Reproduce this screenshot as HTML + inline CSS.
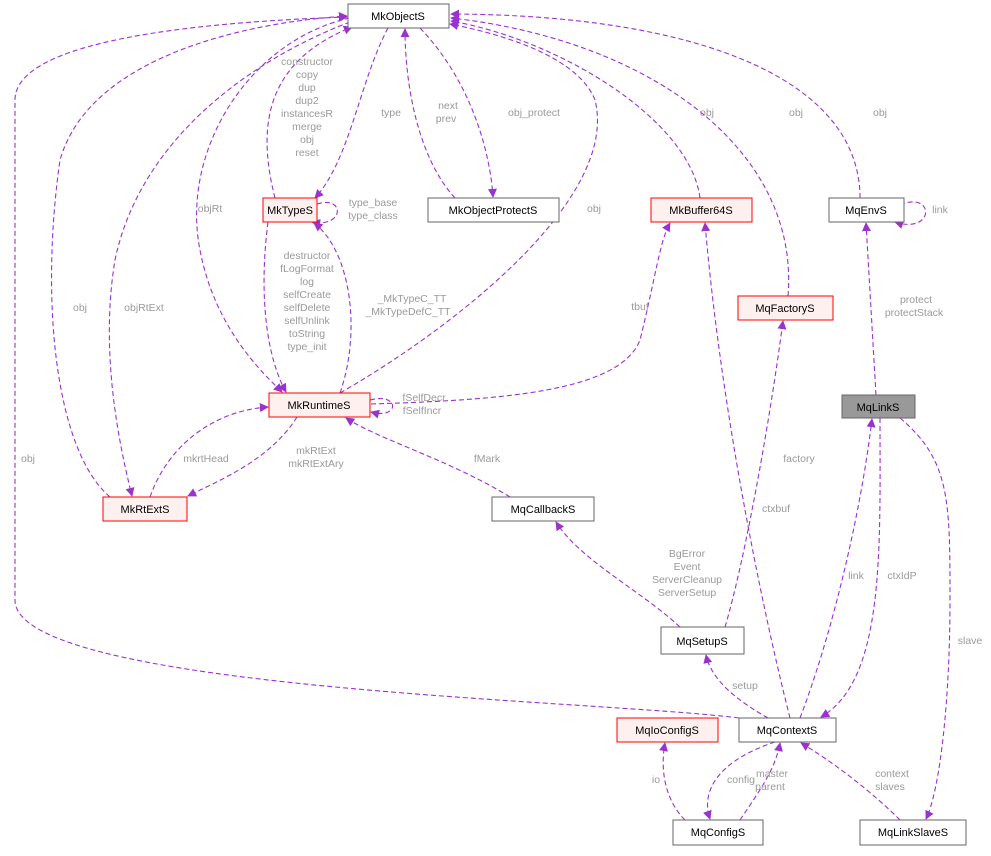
<!DOCTYPE html>
<html><head><meta charset="utf-8"><style>
html,body{margin:0;padding:0;background:#fff;}
svg text{font-family:"Liberation Sans",Helvetica,sans-serif;}
.n{font-size:11px;fill:#000;text-anchor:middle;}
.l{font-size:10.5px;fill:#9a9a9a;text-anchor:middle;}
.e{fill:none;stroke:#9a32cd;stroke-width:1.1;stroke-dasharray:5,3;marker-end:url(#a);}
</style></head><body>
<svg width="991" height="851" viewBox="0 0 991 851" xmlns="http://www.w3.org/2000/svg">
<defs><marker id="a" viewBox="0 0 10 10" refX="9" refY="5" markerWidth="9" markerHeight="9" markerUnits="userSpaceOnUse" orient="auto"><path d="M0,0 L10,5 L0,10 z" fill="#9a32cd"/></marker></defs>

<path class="e" d="M275,198 C255,120 270,60 352,27"/>
<path class="e" d="M388,28 C360,80 350,160 315,198"/>
<path class="e" d="M317,204 C345,195 345,228 312,222"/>
<path class="e" d="M455,198 C420,160 405,90 405,29"/>
<path class="e" d="M420,28 C470,80 490,150 493,197"/>
<path class="e" d="M340,393 C450,330 620,200 595,100 C575,50 480,30 450,24"/>
<path class="e" d="M350,18 C250,40 180,150 200,250 C215,330 265,375 282,392"/>
<path class="e" d="M700,198 C690,120 560,40 451,21"/>
<path class="e" d="M788,296 C800,150 650,40 451,18"/>
<path class="e" d="M860,198 C860,80 700,15 451,14"/>
<path class="e" d="M900,205 C935,190 935,235 895,222"/>
<path class="e" d="M268,222 C258,300 268,360 286,392"/>
<path class="e" d="M340,393 C362,330 350,250 314,223"/>
<path class="e" d="M370,400 C400,392 400,420 371,412"/>
<path class="e" d="M371,404 C500,400 620,392 640,340 C655,280 660,240 670,223"/>
<path class="e" d="M110,497 C55,450 40,300 60,160 C90,55 250,22 347,16"/>
<path class="e" d="M350,22 C250,60 140,140 115,260 C100,350 118,440 132,496"/>
<path class="e" d="M150,497 C170,440 220,410 268,407"/>
<path class="e" d="M297,417 C270,460 220,480 188,496"/>
<path class="e" d="M510,497 C450,460 380,440 346,418"/>
<path class="e" d="M739,718 C600,700 15,690 15,600 L15,100 C15,40 200,22 347,17"/>
<path class="e" d="M680,627 C640,590 580,560 556,522"/>
<path class="e" d="M725,627 C745,560 770,420 783,321"/>
<path class="e" d="M790,718 C760,600 720,400 705,223"/>
<path class="e" d="M768,718 C740,702 712,682 706,655"/>
<path class="e" d="M800,718 C830,640 860,520 872,419"/>
<path class="e" d="M880,418 C880,550 885,680 821,717"/>
<path class="e" d="M876,395 L866,223"/>
<path class="e" d="M900,418 C950,460 950,500 950,600 C950,700 940,790 926,819"/>
<path class="e" d="M900,820 C870,790 830,760 801,743"/>
<path class="e" d="M685,820 C665,800 660,770 665,743"/>
<path class="e" d="M775,742 C720,760 700,790 710,819"/>
<path class="e" d="M740,820 C760,790 775,770 780,743"/>

<text class="l" x="307" y="65">constructor</text><text class="l" x="307" y="78">copy</text><text class="l" x="307" y="91">dup</text><text class="l" x="307" y="104">dup2</text><text class="l" x="307" y="117">instancesR</text><text class="l" x="307" y="130">merge</text><text class="l" x="307" y="143">obj</text><text class="l" x="307" y="156">reset</text>
<text class="l" x="391" y="116">type</text>
<text class="l" x="448" y="109">next</text><text class="l" x="446" y="122">prev</text>
<text class="l" x="534" y="116">obj_protect</text>
<text class="l" x="210" y="212">objRt</text>
<text class="l" x="594" y="212">obj</text>
<text class="l" x="707" y="116">obj</text>
<text class="l" x="796" y="116">obj</text>
<text class="l" x="880" y="116">obj</text>
<text class="l" x="940" y="213">link</text>
<text class="l" x="373" y="206">type_base</text><text class="l" x="373" y="219">type_class</text>
<text class="l" x="307" y="259">destructor</text><text class="l" x="307" y="272">fLogFormat</text><text class="l" x="307" y="285">log</text><text class="l" x="307" y="298">selfCreate</text><text class="l" x="307" y="311">selfDelete</text><text class="l" x="307" y="324">selfUnlink</text><text class="l" x="307" y="337">toString</text><text class="l" x="307" y="350">type_init</text>
<text class="l" x="412" y="302">_MkTypeC_TT</text><text class="l" x="408" y="315">_MkTypeDefC_TT</text>
<text class="l" x="424" y="401">fSelfDecr</text><text class="l" x="422" y="414">fSelfIncr</text>
<text class="l" x="640" y="310">tbuf</text>
<text class="l" x="80" y="311">obj</text>
<text class="l" x="144" y="311">objRtExt</text>
<text class="l" x="206" y="462">mkrtHead</text>
<text class="l" x="316" y="454">mkRtExt</text><text class="l" x="316" y="467">mkRtExtAry</text>
<text class="l" x="487" y="462">fMark</text>
<text class="l" x="28" y="462">obj</text>
<text class="l" x="916" y="303">protect</text><text class="l" x="914" y="316">protectStack</text>
<text class="l" x="799" y="462">factory</text>
<text class="l" x="776" y="512">ctxbuf</text>
<text class="l" x="687" y="557">BgError</text><text class="l" x="687" y="570">Event</text><text class="l" x="687" y="583">ServerCleanup</text><text class="l" x="687" y="596">ServerSetup</text>
<text class="l" x="856" y="579">link</text>
<text class="l" x="902" y="579">ctxIdP</text>
<text class="l" x="970" y="644">slave</text>
<text class="l" x="745" y="689">setup</text>
<text class="l" x="892" y="777">context</text><text class="l" x="890" y="790">slaves</text>
<text class="l" x="656" y="783">io</text>
<text class="l" x="741" y="783">config</text>
<text class="l" x="772" y="777">master</text><text class="l" x="770" y="790">parent</text>

<g stroke-width="1">
<rect x="348" y="4" width="101" height="24" fill="#fff" stroke="#666"/><text class="n" x="398" y="20">MkObjectS</text>
<rect x="263" y="198" width="54" height="24" fill="#fff0f0" stroke="#f00"/><text class="n" x="290" y="214">MkTypeS</text>
<rect x="428" y="198" width="131" height="24" fill="#fff" stroke="#666"/><text class="n" x="493" y="214">MkObjectProtectS</text>
<rect x="651" y="198" width="101" height="24" fill="#fff0f0" stroke="#f00"/><text class="n" x="701" y="214">MkBuffer64S</text>
<rect x="829" y="198" width="75" height="24" fill="#fff" stroke="#666"/><text class="n" x="866" y="214">MqEnvS</text>
<rect x="738" y="296" width="95" height="24" fill="#fff0f0" stroke="#f00"/><text class="n" x="785" y="312">MqFactoryS</text>
<rect x="842" y="395" width="73" height="23" fill="#999" stroke="#666"/><text class="n" x="878" y="411">MqLinkS</text>
<rect x="269" y="393" width="101" height="24" fill="#fff0f0" stroke="#f00"/><text class="n" x="319" y="409">MkRuntimeS</text>
<rect x="103" y="497" width="84" height="24" fill="#fff0f0" stroke="#f00"/><text class="n" x="145" y="513">MkRtExtS</text>
<rect x="492" y="497" width="102" height="24" fill="#fff" stroke="#666"/><text class="n" x="543" y="513">MqCallbackS</text>
<rect x="661" y="627" width="83" height="27" fill="#fff" stroke="#666"/><text class="n" x="702" y="645">MqSetupS</text>
<rect x="617" y="718" width="101" height="24" fill="#fff0f0" stroke="#f00"/><text class="n" x="667" y="734">MqIoConfigS</text>
<rect x="739" y="718" width="97" height="24" fill="#fff" stroke="#666"/><text class="n" x="787" y="734">MqContextS</text>
<rect x="673" y="820" width="90" height="25" fill="#fff" stroke="#666"/><text class="n" x="718" y="836">MqConfigS</text>
<rect x="860" y="820" width="106" height="25" fill="#fff" stroke="#666"/><text class="n" x="913" y="836">MqLinkSlaveS</text>
</g>
</svg>
</body></html>
